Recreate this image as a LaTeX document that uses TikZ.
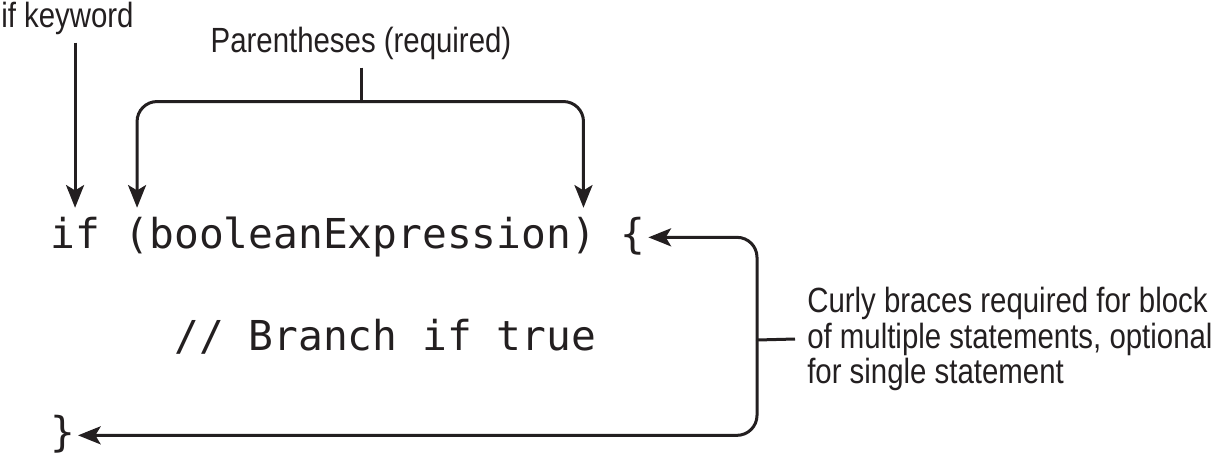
\documentclass[tikz,border=0pt]{standalone}
\usepackage{fontspec}
\usetikzlibrary{arrows.meta}
\newfontfamily\lblfont{Liberation Sans}[FakeStretch=0.84]
\newfontfamily\codefont{DejaVu Sans Mono}
\definecolor{ink}{HTML}{231F20}
\begin{document}
\begin{tikzpicture}[x=0.75pt,y=-0.75pt,
  lbl/.style={font=\lblfont\fontsize{26.25pt}{26.6pt}\selectfont, text=ink, inner sep=0pt},
  code/.style={font=\codefont\fontsize{30.9pt}{36pt}\selectfont, text=ink, inner xsep=0pt,
    inner ysep=7.5pt, text height=22.5pt, text depth=6.5pt, anchor=base west},
  conn/.style={draw=ink, line width=2.25pt},
  arr/.style={conn, -{Stealth[length=17pt,width=13.5pt,inset=4pt]}, rounded corners=15pt}
]
\useasboundingbox (0,0) rectangle (1220,455);

% labels
\node[lbl, anchor=base west] (kwlbl) at (1,27) {if keyword};
\node[lbl, anchor=base] (plbl) at (361,52) {Parentheses (required)};
\node[lbl, anchor=west, align=left, inner xsep=9pt] (note) at (795,339)
  {Curly braces required for block\\of multiple statements, optional\\for single statement};

% code
\node[code] (kwif)   at (50,248)    {if};
\node[code] (lpar)   at (124.4,248) {(};
\node[code] (expr)   at (149.2,248) {booleanExpression};
\node[code] (rpar)   at (570.8,248) {)};
\node[code] (lbrace) at (620.4,248) {\{};
\node[code] (branch) at (174,350)   {// Branch if true};
\node[code] (rbrace) at (50,446)    {\}};

% connectors
\draw[arr, shorten <=6pt] (kwif.north |- kwlbl.south) -- (kwif.north);

\path (plbl.south) ++(0,42) coordinate (pj);
\draw[conn] ([yshift=-6pt]plbl.south) -- (pj);
\draw[arr] (pj) -| (lpar.north);
\draw[arr] (pj) -| (rpar.north);

\coordinate (cj) at (757,340);
\draw[arr, shorten >=2pt] (cj) |- (lbrace.east);
\draw[arr, shorten >=2pt] (cj) |- (rbrace.east);
\draw[conn] (cj) -- (note.west);
\end{tikzpicture}
\end{document}
